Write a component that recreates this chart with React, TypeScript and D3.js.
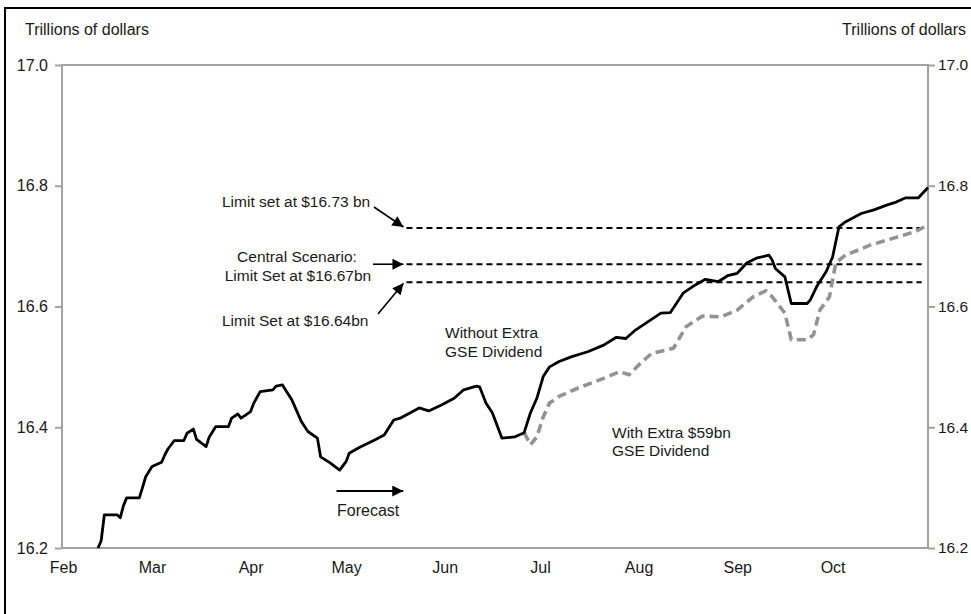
import React, { ReactElement, useRef, useEffect } from 'react';
import * as d3 from 'd3';

// debt subject to limit, trillions of dollars
const withoutDates = [
  '2013-02-12', '2013-02-13', '2013-02-14', '2013-02-18', '2013-02-19', '2013-02-20', '2013-02-21',
  '2013-02-25', '2013-02-26', '2013-02-27', '2013-03-01', '2013-03-04', '2013-03-05', '2013-03-06',
  '2013-03-08', '2013-03-11', '2013-03-12', '2013-03-14', '2013-03-15', '2013-03-18', '2013-03-19',
  '2013-03-21', '2013-03-25', '2013-03-26', '2013-03-28', '2013-03-29', '2013-04-01', '2013-04-02',
  '2013-04-04', '2013-04-08', '2013-04-09', '2013-04-11', '2013-04-14', '2013-04-17', '2013-04-19',
  '2013-04-22', '2013-04-23', '2013-04-26', '2013-04-29', '2013-05-01', '2013-05-02', '2013-05-05',
  '2013-05-10', '2013-05-13', '2013-05-16', '2013-05-18', '2013-05-24', '2013-05-27', '2013-05-31',
  '2013-06-04', '2013-06-07', '2013-06-11', '2013-06-12', '2013-06-14', '2013-06-16', '2013-06-19',
  '2013-06-23', '2013-06-26', '2013-06-28', '2013-06-30', '2013-07-02', '2013-07-04', '2013-07-07',
  '2013-07-11', '2013-07-16', '2013-07-21', '2013-07-25', '2013-07-28', '2013-07-31', '2013-08-04',
  '2013-08-08', '2013-08-11', '2013-08-15', '2013-08-18', '2013-08-22', '2013-08-26', '2013-08-29',
  '2013-09-01', '2013-09-04', '2013-09-07', '2013-09-11', '2013-09-12', '2013-09-13', '2013-09-16',
  '2013-09-18', '2013-09-23', '2013-09-24', '2013-09-26', '2013-09-29', '2013-10-01', '2013-10-03',
  '2013-10-05', '2013-10-10', '2013-10-14', '2013-10-18', '2013-10-21', '2013-10-24', '2013-10-28',
  '2013-10-31'
];
const withoutValues = [
  16.200, 16.212, 16.255, 16.255, 16.250, 16.270, 16.283,
  16.283, 16.300, 16.318, 16.335, 16.342, 16.354, 16.364,
  16.378, 16.378, 16.390, 16.397, 16.380, 16.368, 16.384,
  16.401, 16.401, 16.415, 16.422, 16.415, 16.426, 16.440,
  16.459, 16.462, 16.468, 16.470, 16.445, 16.409, 16.393,
  16.382, 16.351, 16.341, 16.329, 16.343, 16.357, 16.366,
  16.379, 16.387, 16.412, 16.415, 16.432, 16.427, 16.437,
  16.448, 16.462, 16.468, 16.467, 16.440, 16.424, 16.382,
  16.384, 16.391, 16.424, 16.448, 16.484, 16.500, 16.509,
  16.517, 16.525, 16.536, 16.549, 16.547, 16.561, 16.575,
  16.589, 16.590, 16.622, 16.633, 16.645, 16.641, 16.651,
  16.655, 16.672, 16.680, 16.685, 16.677, 16.663, 16.649,
  16.605, 16.605, 16.611, 16.633, 16.658, 16.682, 16.732,
  16.740, 16.754, 16.760, 16.768, 16.773, 16.780, 16.780,
  16.797
];

const withDates = [
  '2013-06-26', '2013-06-28', '2013-06-30', '2013-07-02', '2013-07-04', '2013-07-07', '2013-07-13',
  '2013-07-21', '2013-07-26', '2013-07-29', '2013-08-01', '2013-08-05', '2013-08-12', '2013-08-16',
  '2013-08-21', '2013-08-27', '2013-09-01', '2013-09-06', '2013-09-10', '2013-09-12', '2013-09-16',
  '2013-09-18', '2013-09-23', '2013-09-25', '2013-09-27', '2013-09-30', '2013-10-02', '2013-10-05',
  '2013-10-13', '2013-10-22', '2013-10-27', '2013-10-31'
];
const withValues = [
  16.391, 16.371, 16.384, 16.417, 16.440, 16.451, 16.465,
  16.481, 16.492, 16.487, 16.503, 16.522, 16.531, 16.567,
  16.584, 16.583, 16.594, 16.616, 16.626, 16.616, 16.589,
  16.545, 16.545, 16.553, 16.594, 16.616, 16.672, 16.685,
  16.702, 16.716, 16.724, 16.735
];

const limitValues = [16.73, 16.67, 16.64];
const limitStart = '2013-05-20';
const limitEnd = '2013-10-29';

const yTicks = [16.2, 16.4, 16.6, 16.8, 17.0];
const forecastStart = '2013-04-28';
const forecastEnd = '2013-05-19';

const width = 971, height = 614;
const left = 62, right = 928, top = 65, bottom = 548;
const font = '"Liberation Sans", Arial, sans-serif';

const App = (): ReactElement => {
  const ref = useRef<SVGSVGElement>(null);

  useEffect(() => {
    const parse = d3.timeParse('%Y-%m-%d');
    const svg = d3.select(ref.current);
    svg.selectAll('*').remove();

    const x = d3.scaleTime()
      .domain([new Date(2013, 1, 1), new Date(2013, 9, 31)])
      .range([left + 1, right]);
    const y = d3.scaleLinear().domain([16.2, 17.0]).range([bottom, top]);

    const defs = svg.append('defs');
    defs.append('marker')
      .attr('id', 'head')
      .attr('viewBox', '0 0 10 10')
      .attr('refX', 10).attr('refY', 5)
      .attr('markerWidth', 12).attr('markerHeight', 11)
      .attr('markerUnits', 'userSpaceOnUse')
      .attr('orient', 'auto')
      .append('path').attr('d', 'M0,0L10,5L0,10Z').attr('fill', '#000');

    // outer frame
    svg.append('rect')
      .attr('x', 5).attr('y', 8).attr('width', 980).attr('height', 620)
      .attr('fill', 'none').attr('stroke', '#000').attr('stroke-width', 2);

    const txt = (s: string, tx: number, ty: number, anchor = 'start', size = 15.5) =>
      svg.append('text')
        .attr('x', tx).attr('y', ty)
        .attr('text-anchor', anchor)
        .attr('font-family', font).attr('font-size', size)
        .attr('fill', '#1a1a1a')
        .text(s);

    txt('Trillions of dollars', 25, 35, 'start', 16);
    txt('Trillions of dollars', 966, 35, 'end', 16);

    // plot box
    svg.append('rect')
      .attr('x', left).attr('y', top)
      .attr('width', right - left).attr('height', bottom - top)
      .attr('fill', 'none').attr('stroke', '#a3a3a3').attr('stroke-width', 2);

    const styleAxis = (g: d3.Selection<SVGGElement, unknown, null, undefined>) => {
      g.select('.domain').remove();
      g.selectAll('line').attr('stroke', '#a3a3a3').attr('stroke-width', 2);
      g.selectAll('text').attr('font-family', font).attr('font-size', 16).attr('fill', '#1a1a1a');
    };

    svg.append('g').attr('transform', `translate(${left},0)`)
      .call(d3.axisLeft(y).tickValues(yTicks).tickFormat(d3.format('.1f')).tickSize(7).tickPadding(7))
      .call(styleAxis);
    const ra = svg.append('g').attr('transform', `translate(${right},0)`)
      .call(d3.axisRight(y).tickValues(yTicks).tickFormat(d3.format('.1f')).tickSize(7).tickPadding(3))
      .call(styleAxis);
    ra.selectAll('text').attr('font-size', 15.5);

    const months = d3.timeMonth.range(new Date(2013, 1, 1), new Date(2013, 9, 2));
    svg.append('g').attr('transform', `translate(0,${bottom})`)
      .call(d3.axisBottom(x).tickValues(months).tickFormat(d3.timeFormat('%b') as any).tickSize(0).tickPadding(14))
      .call(styleAxis);

    // limit lines
    svg.append('g').selectAll('line')
      .data(limitValues)
      .join('line')
      .attr('x1', x(parse(limitStart)!)).attr('x2', x(parse(limitEnd)!))
      .attr('y1', d => y(d)).attr('y2', d => y(d))
      .attr('stroke', '#000').attr('stroke-width', 2)
      .attr('stroke-dasharray', '6,4');

    const line = d3.line<[Date, number]>().x(d => x(d[0])).y(d => y(d[1]));
    const withData = withDates.map((d, i) => [parse(d)!, withValues[i]] as [Date, number]);
    const withoutData = withoutDates.map((d, i) => [parse(d)!, withoutValues[i]] as [Date, number]);

    svg.append('path')
      .attr('d', line(withData))
      .attr('fill', 'none').attr('stroke', '#939393').attr('stroke-width', 3.6)
      .attr('stroke-dasharray', '9,5').attr('stroke-linejoin', 'round');
    svg.append('path')
      .attr('d', line(withoutData))
      .attr('fill', 'none').attr('stroke', '#000').attr('stroke-width', 2.8)
      .attr('stroke-linejoin', 'round');

    // annotations
    const tipX = x(parse(limitStart)!) - 3;
    const arrow = (x1: number, y1: number, x2: number, y2: number, w = 1.6) =>
      svg.append('line')
        .attr('x1', x1).attr('y1', y1).attr('x2', x2).attr('y2', y2)
        .attr('stroke', '#000').attr('stroke-width', w)
        .attr('marker-end', 'url(#head)');

    txt('Limit set at $16.73 bn', 222, 207);
    arrow(374, 207, tipX, y(16.73) - 1);
    txt('Central Scenario:', 297, 262, 'middle');
    txt('Limit Set at $16.67bn', 298, 281, 'middle');
    arrow(373, y(16.67), tipX, y(16.67));
    txt('Limit Set at $16.64bn', 222, 326);
    arrow(378, 314, tipX, y(16.64) + 1);

    txt('Without Extra', 445, 338);
    txt('GSE Dividend', 445, 357);
    txt('With Extra $59bn', 612, 438);
    txt('GSE Dividend', 612, 456);

    const fy = 491;
    arrow(x(parse(forecastStart)!), fy, x(parse(forecastEnd)!), fy, 2.2);
    txt('Forecast', 337, 516, 'start', 16);
  }, []);

  return (
    <svg ref={ref} width={width} height={height}
      style={{ position: 'absolute', left: 0, top: 0, background: '#fff' }} />
  );
};

export default App;
